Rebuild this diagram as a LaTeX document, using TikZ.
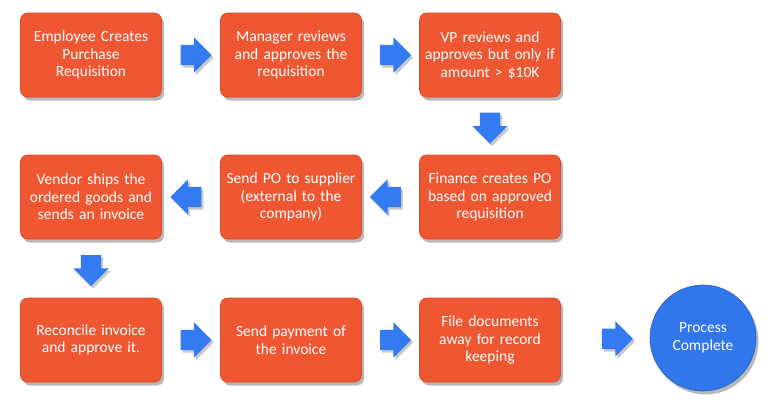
\documentclass[tikz,border=0pt]{standalone}
\usepackage{fontspec}
\setmainfont{Carlito}
\usetikzlibrary{shapes.arrows,shadows,calc}

\definecolor{boxorange}{RGB}{239,87,50}
\definecolor{boxedge}{RGB}{214,72,40}
\definecolor{arrowblue}{RGB}{52,122,240}
\definecolor{circblue}{RGB}{50,118,235}
\definecolor{circedge}{RGB}{40,92,190}

\tikzset{
    stepbox/.style={rectangle, rounded corners=7pt, fill=boxorange,
        draw=boxedge, line width=0.6pt,
        minimum width=141pt, minimum height=84pt, text width=134pt,
        align=center, text=white, font=\fontsize{15.5}{17.5}\selectfont,
        drop shadow={shadow xshift=2.5pt, shadow yshift=-3.5pt,
            fill=black, opacity=0.28}},
    donecircle/.style={circle, fill=circblue, draw=circedge, line width=0.6pt,
        minimum size=106pt, align=center, text=white,
        font=\fontsize{15.5}{18}\selectfont,
        drop shadow={shadow xshift=2.5pt, shadow yshift=-3.5pt,
            fill=black, opacity=0.28}},
    blockarrow/.style={single arrow, fill=arrowblue, draw=none,
        minimum height=31pt, minimum width=35pt, inner xsep=0pt, inner ysep=10pt,
        single arrow head extend=7.5pt, single arrow head indent=0pt,
        drop shadow={shadow xshift=2pt, shadow yshift=-2.5pt,
            fill=black, opacity=0.22}},
}

\begin{document}
\begin{tikzpicture}[x=1pt, y=-1pt]

\useasboundingbox (0,0) rectangle (768,402);

% === Row 1 ===
\node[stepbox] (create) at (91,55) {Employee Creates\\Purchase\\Requisition};
\node[stepbox] (manager) at (291,55) {Manager reviews\\and approves the\\requisition};
\node[stepbox] (vp) at (490,55) {VP reviews and\\approves but only if\\amount > \$10K};

% === Row 2 ===
\node[stepbox] (finance) at (490,197) {Finance creates PO\\based on approved\\requisition};
\node[stepbox] (sendpo) at (291,197) {Send PO to supplier\\(external to the\\company)};
\node[stepbox] (vendor) at (91,197) {Vendor ships the\\ordered goods and\\sends an invoice};

% === Row 3 ===
\node[stepbox] (reconcile) at (91,340) {Reconcile invoice\\and approve it.};
\node[stepbox] (payment) at (291,340) {Send payment of\\the invoice};
\node[stepbox] (filedocs) at (490,340) {File documents\\away for record\\keeping};
\node[donecircle] (done) at (703,338) {Process\\Complete};

% === Block arrows ===
\node[blockarrow] (a1) at ($(create.east)!0.5!(manager.west)$) {};
\node[blockarrow] (a2) at ($(manager.east)!0.5!(vp.west)$) {};
\node[blockarrow, rotate=-90] (a3) at ($(vp.south)!0.45!(finance.north)$) {};
\node[blockarrow, rotate=180] (a4) at ($(finance.west)!0.5!(sendpo.east)$) {};
\node[blockarrow, rotate=180] (a5) at ($(sendpo.west)!0.5!(vendor.east)$) {};
\node[blockarrow, rotate=-90] (a6) at ($(vendor.south)!0.45!(reconcile.north)$) {};
\node[blockarrow] (a7) at ($(reconcile.east)!0.5!(payment.west)$) {};
\node[blockarrow] (a8) at ($(payment.east)!0.5!(filedocs.west)$) {};
\node[blockarrow] (a9) at ($(filedocs.east)!0.58!(done.west)$) {};

\end{tikzpicture}
\end{document}
